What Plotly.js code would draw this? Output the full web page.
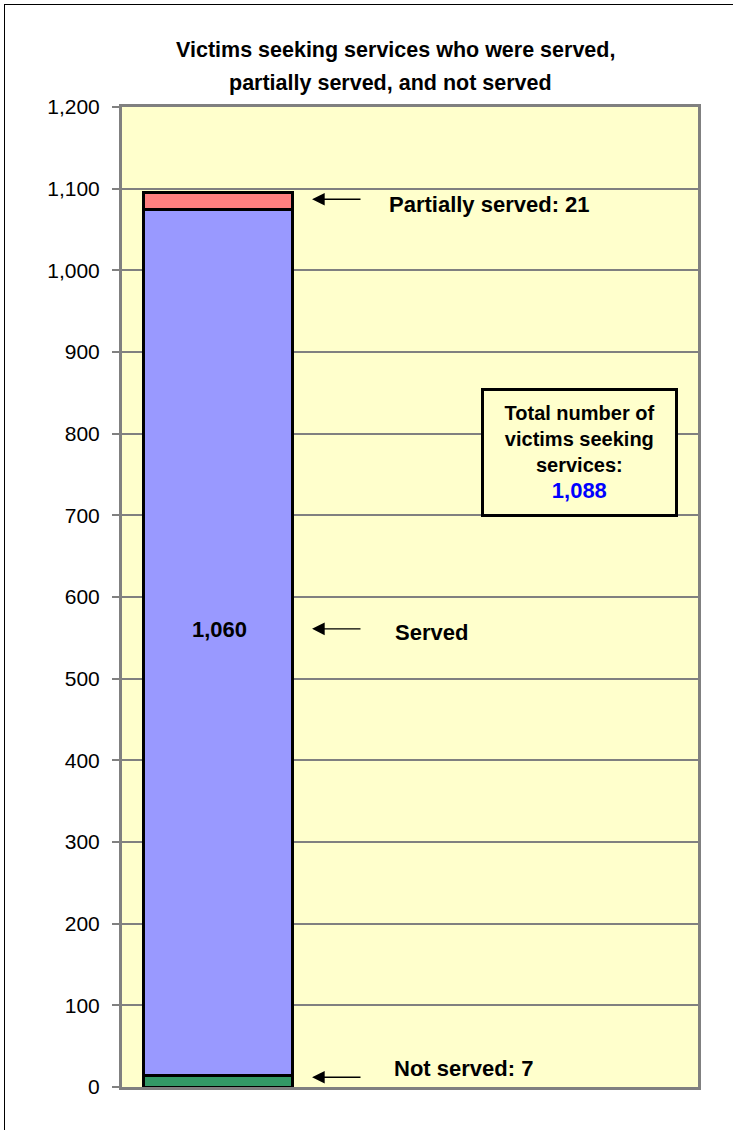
<!DOCTYPE html>
<html>
<head>
<meta charset="utf-8">
<script src="https://cdn.plot.ly/plotly-3.0.1.min.js"></script>
<style>
  html, body { margin: 0; padding: 0; background: #fff; }
  #wrap { position: relative; width: 733px; height: 1130px; overflow: hidden; }
  #frame { position: absolute; left: 4px; top: 4px; width: 760px; height: 1160px; border: 1.5px solid #000; box-sizing: border-box; pointer-events: none; }
  #chart { position: absolute; left: 0; top: 0; width: 733px; height: 1130px; }
</style>
</head>
<body>
<div id="wrap">
  <div id="chart"></div>
  <div id="frame"></div>
</div>
<script>
// ---- data ----
const category = ["Victims"];
const seriesNames = ["Not served", "Served", "Partially served"];
const notServed = [14];        // drawn bar height
const served = [1060];
const partiallyServed = [21];
const labelNotServed = 7;      // labelled values
const labelServed = 1060;
const labelPartially = 21;
const totalSeeking = 1088;
const titleLines = ["Victims seeking services who were served,", "partially served, and not served"];
const yTickVals = [0, 100, 200, 300, 400, 500, 600, 700, 800, 900, 1000, 1100, 1200];
const yTickText = ["0", "100", "200", "300", "400", "500", "600", "700", "800", "900", "1,000", "1,100", "1,200"];

const fmt = v => v.toLocaleString("en-US");
const font = "Liberation Sans, Arial, sans-serif";
const xPos = [0];
const barLine = { color: "#000", width: 3 };

const traces = [
  { type: "bar", x: xPos, y: notServed, name: seriesNames[0], width: 0.78,
    marker: { color: "#339966", line: barLine }, hoverinfo: "skip" },
  { type: "bar", x: xPos, y: served, name: seriesNames[1], width: 0.78,
    marker: { color: "#9999FF", line: barLine }, hoverinfo: "skip" },
  { type: "bar", x: xPos, y: partiallyServed, name: seriesNames[2], width: 0.78,
    marker: { color: "#FF8080", line: barLine }, hoverinfo: "skip" }
];

const topPartial = notServed[0] + served[0] + partiallyServed[0];
const midServed = notServed[0] + served[0] / 2;

function arrow(yv) {
  return { x: 0.49, y: yv, xref: "x", yref: "y", ax: 0.75, ay: yv, axref: "x", ayref: "y",
    text: "", showarrow: true, arrowhead: 2, arrowsize: 1.8, arrowwidth: 1.4, arrowcolor: "#000" };
}
function label(txt, xv, yv) {
  return { x: xv, y: yv, xref: "x", yref: "y", xanchor: "left", yanchor: "middle",
    text: "<b>" + txt + "</b>", showarrow: false, font: { family: font, size: 22, color: "#000" } };
}
function titleLine(txt) {
  return { xref: "paper", yref: "paper", xanchor: "center", yanchor: "middle",
    showarrow: false, text: "<b>" + txt + "</b>", font: { family: font, size: 21.5, color: "#000" } };
}

const layout = {
  width: 733, height: 1130,
  margin: { l: 122, r: 35, t: 107, b: 43 },
  paper_bgcolor: "#ffffff",
  plot_bgcolor: "#FFFFCC",
  barmode: "stack",
  showlegend: false,
  font: { family: font, color: "#000" },
  xaxis: {
    range: [-0.5, 2.5], showticklabels: false, ticks: "", showgrid: false, zeroline: false,
    showline: true, linecolor: "#808080", linewidth: 3, mirror: true, fixedrange: true
  },
  yaxis: {
    range: [0, 1200], tickvals: yTickVals, ticktext: yTickText,
    tickfont: { family: font, size: 21, color: "#000" },
    ticks: "outside", ticklen: 7, tickwidth: 2, tickcolor: "#808080",
    showgrid: true, gridcolor: "#808080", gridwidth: 2,
    zeroline: false, showline: true, linecolor: "#808080", linewidth: 3, mirror: true,
    ticklabelstandoff: 8, fixedrange: true
  },
  annotations: [
    { ...titleLine(titleLines[0]), x: (395 - 122) / 576, y: (1087 - 50) / 980 },
    { ...titleLine(titleLines[1]), x: (390 - 122) / 576, y: (1087 - 83) / 980 },
    arrow(topPartial - 8),
    arrow(midServed + 17),
    arrow(12),
    label("Partially served: " + fmt(labelPartially), 0.88, topPartial - 14),
    label("Served", 0.911, midServed + 13),
    label("Not served: " + fmt(labelNotServed), 0.906, 23),
    { x: 0.01, y: midServed + 16, xref: "x", yref: "y", showarrow: false,
      text: "<b>" + fmt(labelServed) + "</b>", font: { family: font, size: 22, color: "#000" } },
    { x: 1.883, y: 777, xref: "x", yref: "y", showarrow: false,
      text: "<b>Total number of<br>victims seeking<br>services:<br><span style='color:#0000FF;font-size:22px'>" + fmt(totalSeeking) + "</span></b>",
      font: { family: font, size: 20, color: "#000" },
      bgcolor: "#FFFFCC", bordercolor: "#000", borderwidth: 3, borderpad: 0,
      width: 191, height: 123, align: "center", valign: "middle" }
  ]
};

Plotly.newPlot("chart", traces, layout, { staticPlot: true, displayModeBar: false });
</script>
</body>
</html>
